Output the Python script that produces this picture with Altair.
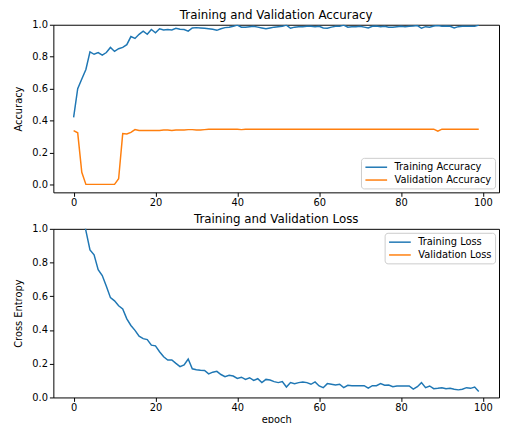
import altair as alt
import pandas as pd

FONT = "DejaVu Sans"

epochs = list(range(100))

train_acc = [
    0.42, 0.60, 0.66, 0.72, 0.83, 0.815, 0.826, 0.81, 0.826, 0.858,
    0.833, 0.85, 0.858, 0.875, 0.926, 0.914, 0.94, 0.96, 0.94, 0.97,
    0.95, 0.975, 0.967, 0.97, 0.967, 0.978, 0.972, 0.97, 0.96, 0.98,
    0.982, 0.98, 0.978, 0.975, 0.972, 0.965, 0.975, 0.982, 0.985, 0.99,
    0.998, 0.985, 0.985, 0.988, 0.99, 0.985, 0.98, 0.975, 0.98, 0.985,
    0.988, 0.99, 0.998, 0.978, 0.985, 0.988, 0.988, 0.99, 0.99, 0.988,
    0.99, 0.98, 0.978, 0.985, 0.99, 0.99, 0.998, 0.985, 0.988, 0.988,
    0.99, 0.985, 0.98, 0.99, 0.992, 0.988, 0.99, 0.985, 0.985, 0.988,
    0.99, 0.988, 0.99, 0.992, 0.995, 0.978, 0.988, 0.985, 0.992, 0.995,
    0.99, 0.992, 0.99, 0.98, 0.988, 0.99, 0.99, 0.99, 0.99, 0.998,
]

val_acc = [
    0.337, 0.323, 0.076, 0.0, 0.0, 0.0, 0.0, 0.0, 0.0, 0.0,
    0.0, 0.035, 0.318, 0.316, 0.326, 0.343, 0.337, 0.337, 0.337, 0.337,
    0.337, 0.337, 0.340, 0.340, 0.337, 0.340, 0.340, 0.340, 0.343, 0.343,
    0.340, 0.340, 0.343, 0.346, 0.346, 0.346, 0.346, 0.346, 0.346, 0.346,
    0.346, 0.343, 0.346, 0.346, 0.346, 0.346, 0.346, 0.346, 0.346, 0.346,
    0.346, 0.346, 0.346, 0.346, 0.346, 0.346, 0.346, 0.346, 0.346, 0.346,
    0.346, 0.346, 0.346, 0.346, 0.346, 0.346, 0.346, 0.346, 0.346, 0.346,
    0.346, 0.346, 0.346, 0.346, 0.346, 0.346, 0.346, 0.346, 0.346, 0.346,
    0.346, 0.346, 0.346, 0.346, 0.346, 0.346, 0.346, 0.346, 0.346, 0.333,
    0.346, 0.346, 0.346, 0.346, 0.346, 0.346, 0.346, 0.346, 0.346, 0.346,
]

train_loss = [
    1.55, 1.30, 1.12, 0.99, 0.875, 0.846, 0.758, 0.723, 0.66, 0.592,
    0.573, 0.544, 0.525, 0.466, 0.427, 0.398, 0.364, 0.349, 0.343, 0.31,
    0.306, 0.271, 0.241, 0.222, 0.222, 0.202, 0.183, 0.193, 0.228, 0.17,
    0.164, 0.161, 0.16, 0.14, 0.15, 0.155, 0.136, 0.123, 0.131, 0.127,
    0.113, 0.12, 0.107, 0.117, 0.101, 0.111, 0.088, 0.107, 0.103, 0.094,
    0.088, 0.094, 0.062, 0.088, 0.082, 0.088, 0.092, 0.088, 0.078, 0.092,
    0.068, 0.058, 0.082, 0.078, 0.074, 0.078, 0.058, 0.072, 0.07, 0.07,
    0.07, 0.07, 0.055, 0.07, 0.07, 0.082, 0.072, 0.074, 0.064, 0.068,
    0.068, 0.068, 0.068, 0.049, 0.064, 0.088, 0.058, 0.068, 0.052, 0.054,
    0.058, 0.052, 0.054, 0.049, 0.045, 0.049, 0.058, 0.054, 0.062, 0.035,
]

# validation loss stays above 1.0 for the whole run, so it is clipped out of view
val_loss = [
    1.12, 1.35, 2.10, 2.85, 3.20, 3.41, 3.55, 3.72, 3.80, 3.95,
    4.02, 3.88, 2.95, 3.10, 3.24, 3.31, 3.40, 3.52, 3.61, 3.70,
    3.78, 3.85, 3.93, 4.01, 4.08, 4.12, 4.20, 4.26, 4.31, 4.38,
    4.42, 4.47, 4.53, 4.58, 4.61, 4.66, 4.70, 4.74, 4.79, 4.83,
    4.86, 4.90, 4.93, 4.97, 5.01, 5.03, 5.07, 5.10, 5.13, 5.16,
    5.19, 5.22, 5.25, 5.27, 5.30, 5.33, 5.35, 5.38, 5.40, 5.43,
    5.45, 5.47, 5.50, 5.52, 5.54, 5.57, 5.59, 5.61, 5.63, 5.65,
    5.67, 5.69, 5.71, 5.73, 5.75, 5.76, 5.78, 5.80, 5.82, 5.83,
    5.85, 5.87, 5.88, 5.90, 5.92, 5.93, 5.95, 5.96, 5.98, 5.99,
    6.01, 6.02, 6.03, 6.05, 6.06, 6.08, 6.09, 6.10, 6.12, 6.13,
]

acc_names = ["Training Accuracy", "Validation Accuracy"]
loss_names = ["Training Loss", "Validation Loss"]
x_ticks = [0, 20, 40, 60, 80, 100]
y_ticks = [0.0, 0.2, 0.4, 0.6, 0.8, 1.0]
colors = ["#1f77b4", "#ff7f0e"]

acc_df = pd.concat([
    pd.DataFrame({"epoch": epochs, "value": train_acc, "series": acc_names[0]}),
    pd.DataFrame({"epoch": epochs, "value": val_acc, "series": acc_names[1]}),
])
loss_df = pd.concat([
    pd.DataFrame({"epoch": epochs, "value": train_loss, "series": loss_names[0]}),
    pd.DataFrame({"epoch": epochs, "value": val_loss, "series": loss_names[1]}),
])


def panel(df, title, names, ytitle, ydomain, legend_orient, xtitle, height):
    legend = alt.Legend(
        title=None, orient=legend_orient, offset=4,
        symbolType="M-2,0L2,0", symbolStrokeWidth=1.5, symbolSize=121,
        symbolOffset=6, symbolFillColor="transparent",
        labelFont=FONT, labelFontSize=10, labelColor="#000",
        strokeColor="#cccccc", fillColor="#ffffff", padding=3,
        cornerRadius=3, rowPadding=1, labelOffset=12,
    )
    xkw = dict(values=x_ticks, grid=False, tickSize=4, labelPadding=1,
               labelFont=FONT, labelFontSize=10, labelColor="#000",
               tickColor="#000", domain=False, labelFlush=False)
    if xtitle:
        xaxis = alt.Axis(title=xtitle, titleFont=FONT, titleFontSize=10,
                         titleFontWeight="normal", titleColor="#000",
                         titlePadding=2, **xkw)
    else:
        xaxis = alt.Axis(title=None, **xkw)
    yaxis = alt.Axis(values=y_ticks, format=".1f", grid=False, tickSize=4,
                     labelPadding=2, labelFont=FONT, labelFontSize=10,
                     labelColor="#000", tickColor="#000", domain=False,
                     title=ytitle, titleFont=FONT, titleFontSize=10,
                     titleFontWeight="normal", titleColor="#000", titlePadding=8,
                     labelFlush=False)
    return alt.Chart(
        df,
        title=alt.TitleParams(title, font=FONT, fontSize=12, fontWeight="normal",
                              color="#000", offset=-2, frame="group"),
    ).mark_line(clip=True, strokeWidth=1.5).encode(
        x=alt.X("epoch:Q", scale=alt.Scale(domain=[-4.95, 103.95], nice=False, zero=False),
                axis=xaxis),
        y=alt.Y("value:Q", scale=alt.Scale(domain=ydomain, nice=False, zero=False),
                axis=yaxis),
        color=alt.Color("series:N", scale=alt.Scale(domain=names, range=colors),
                        sort=names, legend=legend),
        order="epoch:Q",
    ).properties(width=452, height=height)


top = panel(acc_df, "Training and Validation Accuracy", acc_names, "Accuracy",
            [-0.05, 1.0], "bottom-right", None, 170)
bottom = panel(loss_df, "Training and Validation Loss", loss_names, "Cross Entropy",
               [0.0, 1.0], "top-right", "epoch", 171)

chart = alt.vconcat(top, bottom, spacing=4).resolve_scale(
    color="independent"
).resolve_legend(color="independent").properties(
    padding={"left": 5, "top": -3, "right": 0, "bottom": 0},
    background="white",
).configure_view(stroke="#000", strokeWidth=1)

chart.save("out.html", embed_options={"renderer": "svg", "actions": False})
